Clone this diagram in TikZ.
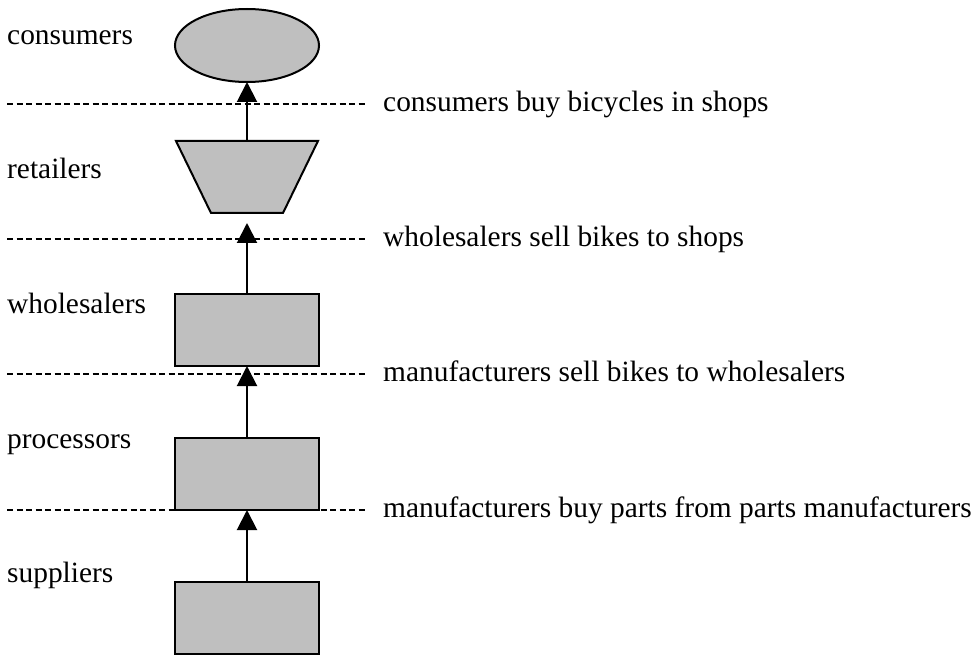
\documentclass[tikz,border=0pt]{standalone}
\usepackage{fontspec}
\setmainfont{Liberation Serif}
\usetikzlibrary{shapes.geometric,arrows.meta}
\begin{document}
\begin{tikzpicture}[x=1pt,y=-1pt,
  font=\fontsize{29.4}{34}\selectfont,
  level/.style={draw=black,line width=2pt,fill=black!25,inner sep=0pt,outer sep=0pt},
  boxnode/.style={level,rectangle,minimum width=144pt,minimum height=72pt},
  divider/.style={line width=2.4pt,dash pattern=on 6pt off 3.5pt},
  flow/.style={line width=2pt,-{Triangle[width=20pt,length=20pt]}},
  lefttext/.style={anchor=base west,inner sep=0pt},
  righttext/.style={anchor=base west,inner sep=0pt}]
\useasboundingbox (0,0) rectangle (975,655);

% stages of the supply chain
\node[level,ellipse,minimum width=144pt,minimum height=73pt] (cons) at (247,45.5) {};
% retailers: an upside-down trapezium
\coordinate (rtl) at (176,141); \coordinate (rtr) at (318,141);
\coordinate (rbr) at (283,213); \coordinate (rbl) at (211,213);
\coordinate (rettop) at (247,141);
\filldraw[level,line join=miter] (rtl) -- (rtr) -- (rbr) -- (rbl) -- cycle;
\node[boxnode] (whole) at (247,330) {};
\node[boxnode] (proc) at (247,474) {};
\node[boxnode] (supp) at (247,618) {};

% stage names
\node[lefttext] (lcons)  at (7,45)  {consumers};
\node[lefttext] (lret)   at (7,179) {retailers};
\node[lefttext] (lwhole) at (7,313) {wholesalers};
\node[lefttext] (lproc)  at (7,448) {processors};
\node[lefttext] (lsupp)  at (7,582) {suppliers};

% dividing lines between the stages
\coordinate (d1a) at (7,104);  \coordinate (d1b) at (365,104);
\coordinate (d2a) at (7,239);  \coordinate (d2b) at (365,239);
\coordinate (d3a) at (7,374);  \coordinate (d3b) at (365,374);
\coordinate (d4a) at (7,510);  \coordinate (d4b) at (365,510);
\draw[divider] (d1a) -- (d1b);
\draw[divider] (d2a) -- (d2b);
\draw[divider] (d3a) -- (d3b);
\draw[divider] (d4a) -- (d4b);

% transactions
\node[righttext] (t1) at (383,111.5) {consumers buy bicycles in shops};
\node[righttext] (t2) at (383,246.5) {wholesalers sell bikes to shops};
\node[righttext] (t3) at (383,381.5) {manufacturers sell bikes to wholesalers};
\node[righttext] (t4) at (383,517.5) {manufacturers buy parts from parts manufacturers};

% flow of goods
\coordinate (tip2) at (247,223);
\draw[flow] (rettop) -- (cons.south);
\draw[flow] (whole.north) -- (tip2);
\draw[flow] (proc.north) -- (whole.south);
\draw[flow] (supp.north) -- (proc.south);
\end{tikzpicture}
\end{document}
